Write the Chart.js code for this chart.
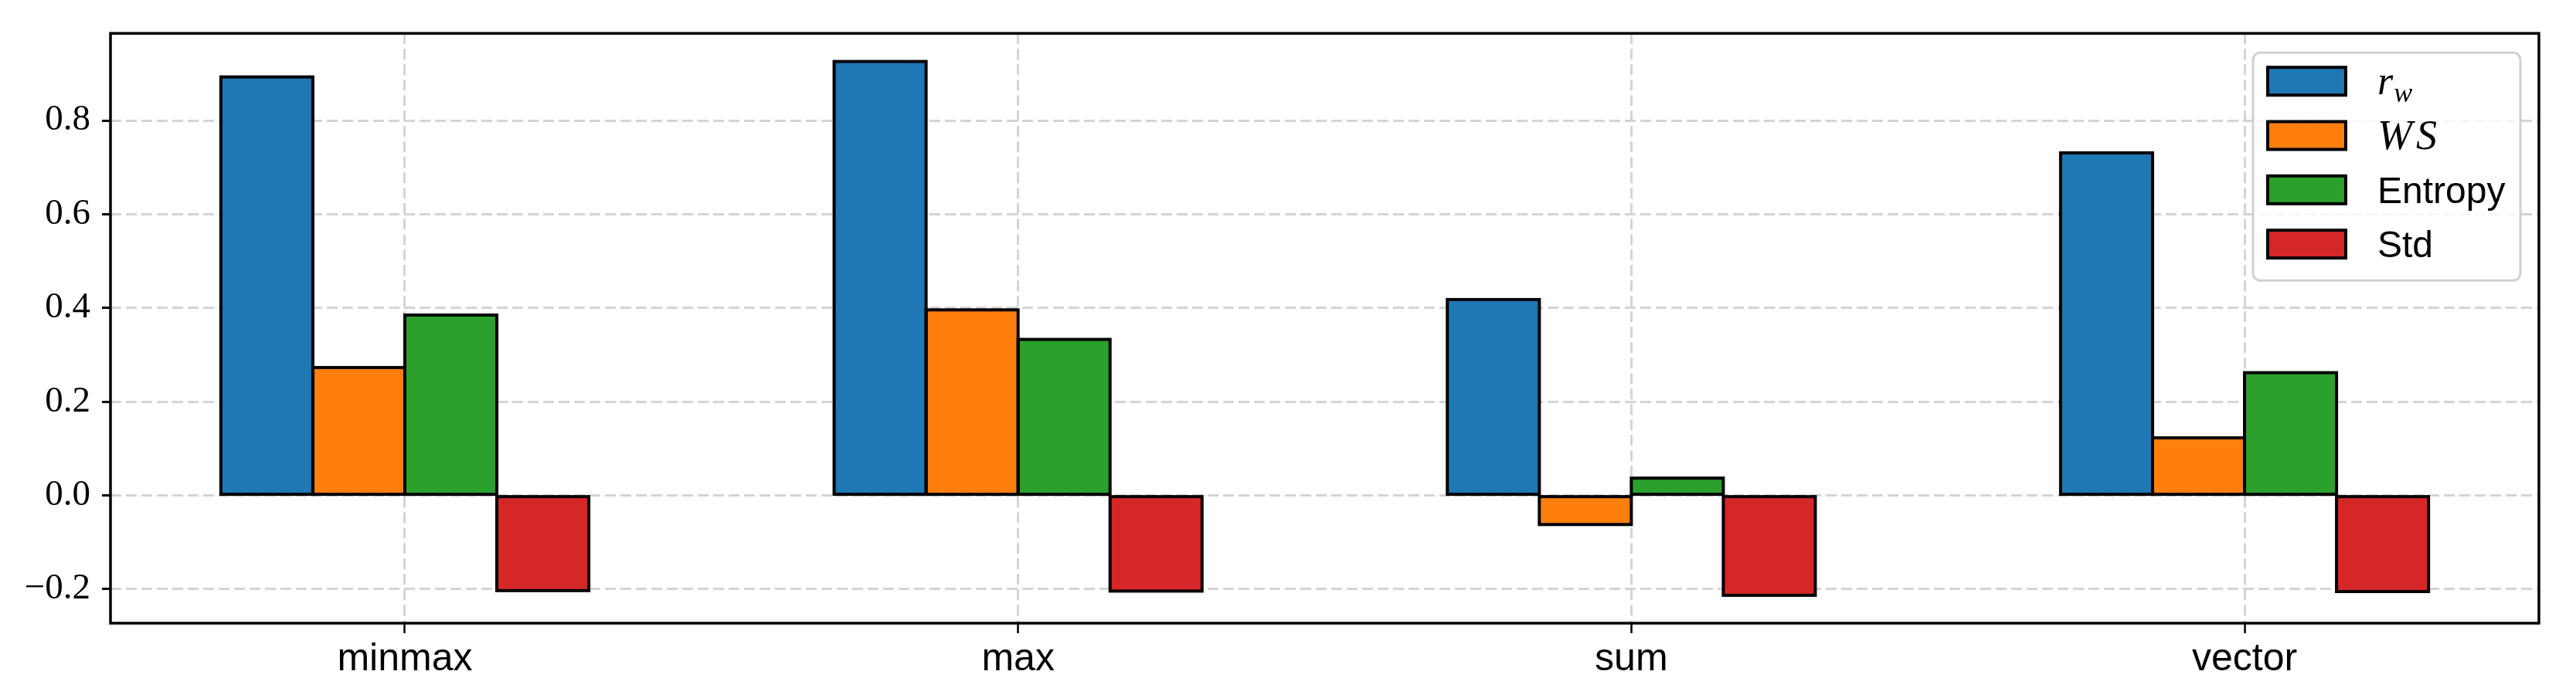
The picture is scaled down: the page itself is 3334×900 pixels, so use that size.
<!DOCTYPE html>
<html>
<head>
<meta charset="utf-8">
<script src="https://cdn.jsdelivr.net/npm/chart.js@4.4.0/dist/chart.umd.min.js"></script>
<style>body{margin:0;background:#fff}</style>
</head>
<body>
<canvas id="chart" width="3334" height="900"></canvas>
<script>
const categories = ['minmax', 'max', 'sum', 'vector'];
const seriesNames = ['r_w', 'WS', 'Entropy', 'Std'];
const rwValues = [0.893, 0.926, 0.418, 0.731];
const wsValues = [0.273, 0.396, -0.062, 0.123];
const entropyValues = [0.385, 0.333, 0.037, 0.262];
const stdValues = [-0.203, -0.204, -0.213, -0.205];
const yTicks = [-0.2, 0.0, 0.2, 0.4, 0.6, 0.8];

const colors = ['#1f77b4', '#ff7f0e', '#2ca02c', '#d62728'];
const allValues = [rwValues, wsValues, entropyValues, stdValues];

const datasets = allValues.map((vals, i) => ({
    label: seriesNames[i],
    data: vals.map((v, j) => ({x: j, y: v})),
    backgroundColor: colors[i],
    borderWidth: 0,
    categoryPercentage: 0.6,
    barPercentage: 1.0
}));

// matplotlib style outlines: stroke centred on the bar edges
const barOutline = {
    id: 'barOutline',
    afterDatasetsDraw(chart) {
        const ctx = chart.ctx;
        ctx.save();
        ctx.lineWidth = 4;
        ctx.strokeStyle = '#000';
        chart.data.datasets.forEach((ds, i) => {
            chart.getDatasetMeta(i).data.forEach(el => {
                const p = el.getProps(['x', 'y', 'base', 'width'], true);
                const top = Math.min(p.y, p.base);
                ctx.strokeRect(p.x - p.width / 2, top, p.width, Math.abs(p.base - p.y));
            });
        });
        // axes frame
        const a = chart.chartArea;
        ctx.lineWidth = 3.5;
        ctx.strokeRect(a.left, a.top, a.right - a.left, a.bottom - a.top);
        ctx.restore();
    }
};

function drawLabel(ctx, name, x, y) {
    if (name === 'r_w') {
        ctx.font = 'italic 52px "Liberation Serif"';
        ctx.fillText('r', x, y);
        const w = ctx.measureText('r').width;
        ctx.font = 'italic 36px "Liberation Serif"';
        ctx.fillText('w', x + w + 1, y + 10);
    } else if (name === 'WS') {
        ctx.font = 'italic 54px "Liberation Serif"';
        ctx.fillText('W', x, y);
        const w = ctx.measureText('W').width;
        ctx.fillText('S', x + w + 5, y);
    } else {
        ctx.font = '48px "Liberation Sans"';
        ctx.fillText(name, x, y);
    }
}

const legendBox = {
    id: 'legendBox',
    afterDraw(chart) {
        const ctx = chart.ctx;
        const a = chart.chartArea;
        const w = 346, h = 295;
        const left = a.right - 24 - w;
        const top = a.top + 25;
        ctx.save();
        ctx.beginPath();
        ctx.roundRect(left, top, w, h, 9);
        ctx.fillStyle = 'rgba(255,255,255,0.8)';
        ctx.fill();
        ctx.lineWidth = 3;
        ctx.strokeStyle = '#d0d0d0';
        ctx.stroke();
        chart.data.datasets.forEach((ds, i) => {
            const cy = top + 37 + i * 70.3;
            ctx.fillStyle = ds.backgroundColor;
            ctx.fillRect(left + 19, cy - 18, 101, 36);
            ctx.lineWidth = 4;
            ctx.strokeStyle = '#000';
            ctx.strokeRect(left + 19, cy - 18, 101, 36);
            ctx.fillStyle = '#000';
            ctx.textBaseline = 'alphabetic';
            drawLabel(ctx, ds.label, left + 161, cy + 17);
        });
        ctx.restore();
    }
};

const ctx = document.getElementById('chart').getContext('2d');
const myChart = new Chart(ctx, {
    type: 'bar',
    data: {datasets: datasets},
    options: {
        responsive: false,
        animation: false,
        devicePixelRatio: 1,
        layout: {padding: {top: 42, right: 48, left: 0, bottom: 0}},
        plugins: {legend: {display: false}, tooltip: {enabled: false}},
        scales: {
            x: {
                type: 'linear',
                offset: false,
                min: -0.48,
                max: 3.48,
                afterBuildTicks: axis => { axis.ticks = categories.map((c, i) => ({value: i})); },
                afterFit: axis => { axis.height = 93; },
                grid: {
                    offset: false,
                    color: '#d4d4d4',
                    lineWidth: 3,
                    tickLength: 13,
                    tickColor: '#000',
                    tickWidth: 2.5
                },
                border: {display: false, dash: [14, 6]},
                ticks: {
                    padding: 4,
                    color: '#000',
                    font: {family: 'Liberation Sans', size: 50},
                    maxRotation: 0,
                    callback: value => categories[value]
                }
            },
            y: {
                min: -0.2725,
                max: 0.986,
                afterBuildTicks: axis => { axis.ticks = yTicks.map(v => ({value: v})); },
                afterFit: axis => { axis.width = 143; },
                grid: {
                    color: '#d4d4d4',
                    lineWidth: 3,
                    tickLength: 11,
                    tickColor: '#000',
                    tickWidth: 3
                },
                border: {display: false, dash: [14, 6]},
                ticks: {
                    padding: 15,
                    color: '#000',
                    font: {family: 'Liberation Serif', size: 47},
                    callback: value => value.toFixed(1).replace('-', '\u2212')
                }
            }
        }
    },
    plugins: [barOutline, legendBox]
});
</script>
</body>
</html>
